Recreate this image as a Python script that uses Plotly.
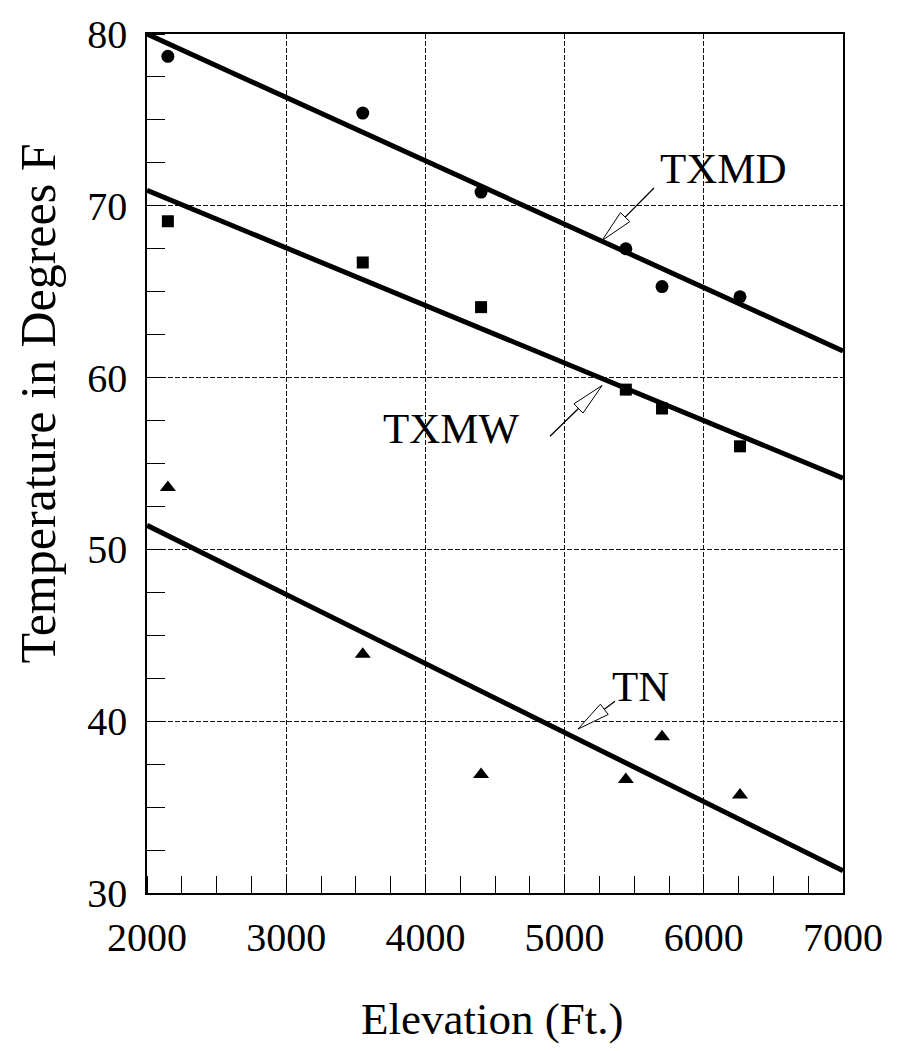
import math
import plotly.graph_objects as go

# ---------------- data ----------------
elevation = [2150, 3550, 4400, 5440, 5700, 6260]
txmd = [78.7, 75.4, 70.8, 67.5, 65.3, 64.7]
txmw = [69.1, 66.7, 64.1, 59.3, 58.2, 56.0]
tn = [53.6, 43.9, 36.9, 36.6, 39.1, 35.7]

fit_x = [2000, 7000]
txmd_fit = [80.0, 61.55]
txmw_fit = [70.9, 54.15]
tn_fit = [51.4, 31.3]

x_ticks = [2000, 3000, 4000, 5000, 6000, 7000]
y_ticks = [30, 40, 50, 60, 70, 80]

labels = ["TXMD", "TXMW", "TN"]
label_pos = [(6145, 72.2), (4191, 57.05), (5542, 42.0)]
arrow_tip = [(5269, 67.98), (5269, 59.54), (5096, 39.54)]
arrow_tail = [(5642, 71.04), (4895, 56.59), (5362, 41.16)]

# ---------------- layout geometry ----------------
W, H = 898, 1051
L, R, T, B = 147, 55, 28, 158
XR = [2000, 7000]
YR = [30, 80]
pw = W - L - R
ph = H - T - B
sx = pw / (XR[1] - XR[0])
sy = ph / (YR[1] - YR[0])

def to_px(x, y):
    return (L + (x - XR[0]) * sx, T + (YR[1] - y) * sy)

def to_data(px, py):
    return (XR[0] + (px - L) / sx, YR[1] - (py - T) / sy)

FONT = "Liberation Serif, Times New Roman, serif"

fig = go.Figure()

def add_series(yvals, fit, symbol, size):
    fig.add_trace(go.Scatter(x=fit_x, y=fit, mode="lines",
                             line=dict(color="black", width=5), showlegend=False,
                             hoverinfo="skip"))
    fig.add_trace(go.Scatter(x=elevation, y=yvals, mode="markers",
                             marker=dict(symbol=symbol, size=size, color="black"),
                             showlegend=False))

add_series(txmd, txmd_fit, "circle", 13)
add_series(txmw, txmw_fit, "square", 12)
add_series(tn, tn_fit, "triangle-up", 14)

shapes = []
head_len, head_w = 33, 6.5
for tip, tail in zip(arrow_tip, arrow_tail):
    tx, ty = to_px(*tip)
    ax, ay = to_px(*tail)
    dx, dy = ax - tx, ay - ty
    d = math.hypot(dx, dy)
    ux, uy = dx / d, dy / d
    nx, ny = -uy, ux
    hl = min(head_len, d * 0.8)
    bx, by = tx + ux * hl, ty + uy * hl
    c1 = to_data(bx + nx * head_w, by + ny * head_w)
    c2 = to_data(bx - nx * head_w, by - ny * head_w)
    b = to_data(bx, by)
    shapes.append(dict(type="line", xref="x", yref="y", x0=tail[0], y0=tail[1],
                       x1=b[0], y1=b[1], line=dict(color="black", width=1.3)))
    shapes.append(dict(type="path", xref="x", yref="y",
                       path=f"M {tip[0]},{tip[1]} L {c1[0]},{c1[1]} L {c2[0]},{c2[1]} Z",
                       fillcolor="white", line=dict(color="black", width=1)))

annotations = []
for txt, (lx, ly) in zip(labels, label_pos):
    annotations.append(dict(x=lx, y=ly, xref="x", yref="y", text=txt, showarrow=False,
                            font=dict(family=FONT, size=43, color="black"),
                            xanchor="center", yanchor="middle"))

annotations.append(dict(x=(38 - L) / pw, y=(T + ph - 400) / ph, xref="paper", yref="paper",
                        text="Temperature in Degrees F", textangle=-90, showarrow=False,
                        font=dict(family=FONT, size=50, color="black"),
                        xanchor="center", yanchor="middle"))
annotations.append(dict(x=(492 - L) / pw, y=(T + ph - 1020) / ph, xref="paper", yref="paper",
                        text="Elevation (Ft.)", showarrow=False,
                        font=dict(family=FONT, size=45, color="black"),
                        xanchor="center", yanchor="middle"))

axis_common = dict(
    showline=True, linecolor="black", linewidth=1.6, mirror=True,
    showgrid=True, gridcolor="#111111", gridwidth=1, griddash="5px,2px",
    zeroline=False, ticks="",
    tickfont=dict(family=FONT, size=40, color="black"),
)

fig.update_layout(
    width=W, height=H,
    margin=dict(l=L, r=R, t=T, b=B),
    paper_bgcolor="white", plot_bgcolor="white",
    xaxis=dict(range=XR, tickvals=x_ticks, ticklabelstandoff=8,
               minor=dict(dtick=250, tick0=2000, ticks="inside", ticklen=17,
                          tickcolor="black", tickwidth=1, showgrid=False),
               **axis_common),
    yaxis=dict(range=YR, tickvals=y_ticks, ticklabelstandoff=10,
               minor=dict(dtick=2.5, tick0=30, ticks="inside", ticklen=18,
                          tickcolor="black", tickwidth=1, showgrid=False),
               **axis_common),
    shapes=shapes,
    annotations=annotations,
)

fig.write_html("out.html", config={"displayModeBar": False},
               post_script="document.body.style.margin='0';document.body.style.overflow='hidden';")
